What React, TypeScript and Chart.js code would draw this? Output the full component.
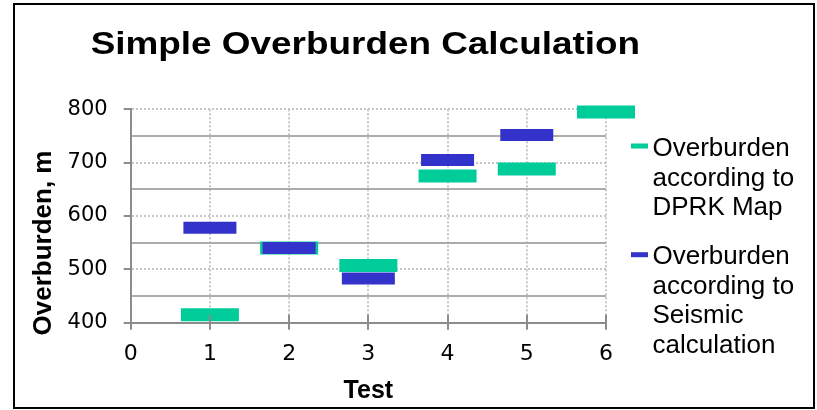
import React, { useEffect, useRef } from 'react';
import { Chart, registerables } from 'chart.js';

Chart.register(...registerables);

// ---- data ----
const tests = [1, 2, 3, 4, 5, 6];
const dprkMap = [415, 540, 507, 675, 688, 795];
const seismic: (number | null)[] = [578, 540, 483, 705, 752, null];
const yTickLabels = [400, 500, 600, 700, 800];
const xTickValues = [0, 1, 2, 3, 4, 5, 6];
const titleText = 'Simple Overburden Calculation';
const xTitle = 'Test';
const yTitle = 'Overburden, m';
const legendDprk = ['Overburden', 'according to', 'DPRK Map'];
const legendSeismic = ['Overburden', 'according to', 'Seismic', 'calculation'];

const GREEN = '#00CC99';
const BLUE = '#3333CC';
const AXIS = '#8c8c8c';

const overlayPlugin = {
  id: 'overlayText',
  afterDatasetsDraw(chart: any) {
    // upper half of the crossing x-axis tick marks
    const { ctx, chartArea: a, scales } = chart;
    ctx.save();
    ctx.strokeStyle = AXIS;
    ctx.lineWidth = 2;
    xTickValues.forEach((v) => {
      const px = Math.round(scales.x.getPixelForValue(v));
      ctx.beginPath();
      ctx.moveTo(px, a.bottom - 8);
      ctx.lineTo(px, a.bottom);
      ctx.stroke();
    });
    ctx.restore();
  },
  afterDraw(chart: any) {
    const { ctx, chartArea } = chart;
    const a = chartArea;
    ctx.save();

    // chart title (drawn slightly widened like the original export)
    ctx.save();
    ctx.translate((a.left + a.right) / 2 - 3, 53.5);
    ctx.scale(1.19, 1);
    ctx.font = 'bold 31px "Liberation Sans", Arial, sans-serif';
    ctx.fillStyle = '#000';
    ctx.textAlign = 'center';
    ctx.textBaseline = 'alphabetic';
    ctx.fillText(titleText, 0, 0);
    ctx.restore();

    // y-axis title
    ctx.save();
    ctx.translate(51, (a.top + a.bottom) / 2 + 27);
    ctx.rotate(-Math.PI / 2);
    ctx.font = 'bold 26px "Liberation Sans", Arial, sans-serif';
    ctx.fillStyle = '#000';
    ctx.textAlign = 'center';
    ctx.textBaseline = 'alphabetic';
    ctx.fillText(yTitle, 0, 0);
    ctx.restore();

    // legend
    const drawEntry = (color: string, lines: string[], markerY: number, firstBase: number) => {
      ctx.strokeStyle = color;
      ctx.lineWidth = 5;
      ctx.lineCap = 'butt';
      ctx.beginPath();
      ctx.moveTo(a.right + 25, a.top + markerY);
      ctx.lineTo(a.right + 42, a.top + markerY);
      ctx.stroke();
      ctx.font = '26px "Liberation Sans", Arial, sans-serif';
      ctx.fillStyle = '#000';
      ctx.textAlign = 'left';
      ctx.textBaseline = 'alphabetic';
      lines.forEach((t, i) => ctx.fillText(t, a.right + 46.5, a.top + firstBase + i * 29.5));
    };
    drawEntry(GREEN, legendDprk, 36.7, 46.7);
    drawEntry(BLUE, legendSeismic, 145.4, 154.7);
    ctx.restore();
  },
};

export default function App() {
  const ref = useRef<HTMLCanvasElement | null>(null);

  useEffect(() => {
    if (!ref.current) return;
    const green = tests.map((x, i) => ({ x, y: dprkMap[i] }));
    const blue = tests
      .map((x, i) => ({ x, y: seismic[i] }))
      .filter((p) => p.y !== null) as { x: number; y: number }[];

    const chart = new Chart(ref.current, {
      type: 'scatter',
      data: {
        datasets: [
          {
            label: legendDprk.join(' '),
            data: green,
            pointStyle: 'line',
            pointRadius: 29,
            pointHoverRadius: 29,
            pointBorderWidth: 13,
            pointHoverBorderWidth: 13,
            borderColor: GREEN,
            backgroundColor: GREEN,
            pointBorderColor: GREEN,
            order: 2,
            clip: false,
          } as any,
          {
            label: legendSeismic.join(' '),
            data: blue,
            pointStyle: 'line',
            pointRadius: 26.5,
            pointHoverRadius: 26.5,
            pointBorderWidth: 12,
            pointHoverBorderWidth: 12,
            borderColor: BLUE,
            backgroundColor: BLUE,
            pointBorderColor: BLUE,
            order: 1,
            clip: false,
          } as any,
        ],
      },
      options: {
        animation: false,
        responsive: false,
        devicePixelRatio: 1,
        events: [],
        layout: { padding: { left: 0, right: 211, top: 109.3, bottom: 0 } },
        plugins: {
          legend: { display: false },
          tooltip: { enabled: false },
          title: { display: false },
        },
        scales: {
          x: {
            type: 'linear',
            min: 0,
            max: 6,
            afterBuildTicks: (s: any) => {
              s.ticks = xTickValues.map((v) => ({ value: v }));
            },
            afterFit: (s: any) => {
              s.height = 87.3;
            },
            ticks: {
              autoSkip: false,
              color: '#000',
              padding: 11.5,
              font: { family: '"DejaVu Sans", sans-serif', size: 22 },
            },
            grid: {
              color: (c: any) => (c.tick && c.tick.value === 0 ? 'rgba(0,0,0,0)' : '#c6c6c6'),
              lineWidth: 2,
              tickColor: AXIS,
              tickLength: 7,
              tickWidth: 2,
            },
            border: {
              display: true,
              color: AXIS,
              width: 2,
              dash: (c: any) => (c.tick ? [2, 2] : []),
            },
            title: {
              display: true,
              text: xTitle,
              color: '#000',
              font: { family: '"Liberation Sans", Arial, sans-serif', weight: 'bold', size: 25 },
              padding: { top: 0, bottom: 3.5 },
            },
          } as any,
          y: {
            type: 'linear',
            min: 400,
            max: 800,
            afterFit: (s: any) => {
              s.width = 130.7;
            },
            ticks: {
              autoSkip: false,
              stepSize: 50,
              color: '#000',
              padding: 16,
              font: { family: '"DejaVu Sans", sans-serif', size: 21 },
              callback: (v: any) => (yTickLabels.includes(Number(v)) ? String(v) : ''),
            },
            grid: {
              color: (c: any) => {
                const v = c.tick ? c.tick.value : null;
                if (v === 400) return 'rgba(0,0,0,0)';
                return v % 100 === 0 ? '#c6c6c6' : '#acacac';
              },
              lineWidth: 2,
              tickColor: (c: any) =>
                c.tick && c.tick.value % 100 === 0 ? AXIS : 'rgba(0,0,0,0)',
              tickLength: 7,
              tickWidth: 2,
            },
            border: {
              display: true,
              color: AXIS,
              width: 2,
              dash: (c: any) => (c.tick && c.tick.value % 100 === 0 ? [2, 2] : []),
            },
            title: { display: false },
          } as any,
        },
      },
      plugins: [overlayPlugin],
    });
    return () => chart.destroy();
  }, []);

  return (
    <div style={{ position: 'absolute', left: 0, top: 0, width: 817, height: 410, background: '#fff' }}>
      <canvas ref={ref} width={817} height={410} style={{ display: 'block' }} />
      <div
        style={{
          position: 'absolute',
          left: 13,
          top: 3,
          width: 802,
          height: 406,
          border: '2px solid #000',
          boxSizing: 'border-box',
          pointerEvents: 'none',
        }}
      />
    </div>
  );
}
